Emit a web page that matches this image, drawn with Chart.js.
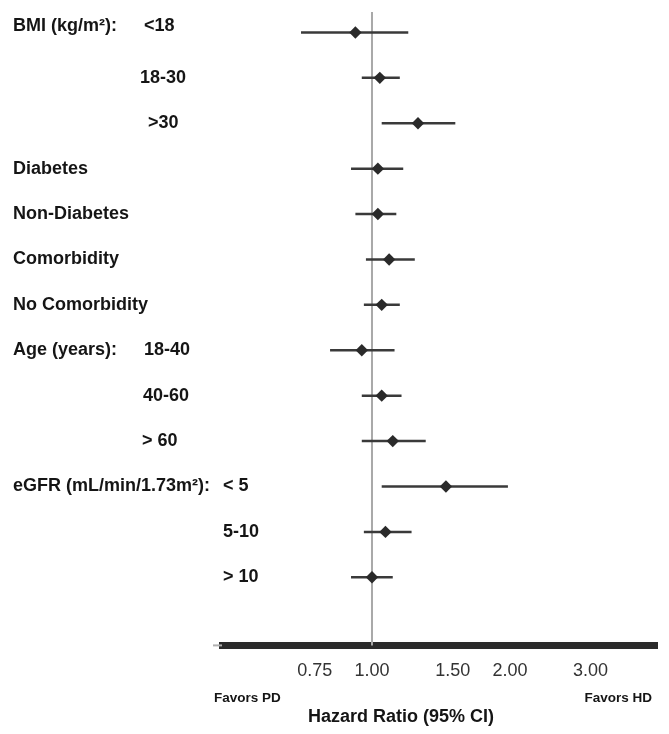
<!DOCTYPE html>
<html><head><meta charset="utf-8">
<script src="https://cdn.jsdelivr.net/npm/chart.js@4/dist/chart.umd.min.js"></script>
<style>html,body{margin:0;padding:0;background:#fff;} #wrap{width:669px;height:734px;position:relative;}</style>
</head><body><div id="wrap"><canvas id="c" width="669" height="734"></canvas></div>
<script>
const groupLabels = ['BMI (kg/m²):', '', '', 'Diabetes', 'Non-Diabetes', 'Comorbidity', 'No Comorbidity', 'Age (years):', '', '', 'eGFR (mL/min/1.73m²):', '', ''];
const subLabels = ['<18', '18-30', '>30', '', '', '', '', '18-40', '40-60', '> 60', '< 5', '5-10', '> 10'];
const hazardRatio = [0.92, 1.04, 1.26, 1.03, 1.03, 1.09, 1.05, 0.95, 1.05, 1.11, 1.45, 1.07, 1.00];
const ciLower = [0.70, 0.95, 1.05, 0.90, 0.92, 0.97, 0.96, 0.81, 0.95, 0.95, 1.05, 0.96, 0.90];
const ciUpper = [1.20, 1.15, 1.52, 1.17, 1.13, 1.24, 1.15, 1.12, 1.16, 1.31, 1.98, 1.22, 1.11];
const tickValues = [0.75, 1.00, 1.50, 2.00, 3.00];
const axisTitle = 'Hazard Ratio (95% CI)';
const leftNote = 'Favors PD';
const rightNote = 'Favors HD';

const FONT = "'Liberation Sans', Arial, Helvetica, sans-serif";

const datasets = [{
  label: 'HR',
  data: hazardRatio.map((v, i) => ({x: v, y: i + 1})),
  pointStyle: 'rectRot',
  pointRadius: 6.2,
  backgroundColor: '#2a2a2a',
  borderColor: '#2a2a2a',
  borderWidth: 0,
  showLine: false
}];
ciLower.forEach((lo, i) => {
  datasets.push({
    label: 'CI' + i,
    data: [{x: lo, y: i + 1}, {x: ciUpper[i], y: i + 1}],
    showLine: true,
    borderColor: '#3a3a3a',
    borderWidth: 2.5,
    pointRadius: 0
  });
});

const forestPlugin = {
  id: 'forest',
  beforeDatasetsDraw(chart, args, opts) {
    const {ctx, chartArea, scales: {x}} = chart;
    const px = x.getPixelForValue(1);
    ctx.save();
    ctx.strokeStyle = '#a9a9a9';
    ctx.lineWidth = 2;
    ctx.beginPath();
    ctx.moveTo(px, chartArea.top);
    ctx.lineTo(px, chartArea.bottom);
    ctx.stroke();
    ctx.strokeStyle = '#b0b0b0';
    ctx.beginPath();
    ctx.moveTo(chartArea.left - 9, chartArea.bottom);
    ctx.lineTo(chartArea.left, chartArea.bottom);
    ctx.stroke();
    ctx.restore();
  },
  afterDraw(chart, args, opts) {
    const {ctx, chartArea, scales: {y}} = chart;
    ctx.save();
    ctx.fillStyle = '#151515';
    ctx.textBaseline = 'middle';
    ctx.textAlign = 'left';
    ctx.font = 'bold 18px ' + FONT;
    for (let i = 0; i < groupLabels.length; i++) {
      const py = y.getPixelForValue(i + 1) + (opts.rowShift[i] || 0);
      if (groupLabels[i]) ctx.fillText(groupLabels[i], opts.groupX, py);
      if (subLabels[i]) ctx.fillText(subLabels[i], opts.subX[i], py);
    }
    ctx.font = 'bold 13.5px ' + FONT;
    ctx.fillText(leftNote, chartArea.left - 8, opts.noteY);
    ctx.textAlign = 'right';
    ctx.fillText(rightNote, chartArea.right - 5, opts.noteY);
    ctx.textAlign = 'center';
    ctx.font = 'bold 18px ' + FONT;
    ctx.fillText(axisTitle, opts.titleX, opts.titleY);
    ctx.restore();
  }
};

new Chart(document.getElementById('c'), {
  type: 'scatter',
  data: {datasets},
  plugins: [forestPlugin],
  options: {
    responsive: false,
    animation: false,
    layout: {padding: {left: 222, right: 12, top: 12, bottom: 37}},
    plugins: {
      legend: {display: false},
      tooltip: {enabled: false},
      forest: {
        groupX: 13,
        subX: [144, 140, 148, 0, 0, 0, 0, 144, 143, 142, 223, 223, 223],
        rowShift: {0: -6},
        noteY: 698,
        titleX: 401,
        titleY: 717
      }
    },
    scales: {
      x: {
        type: 'logarithmic',
        min: 0.4706,
        max: 4.188,
        afterBuildTicks: (scale) => { scale.ticks = tickValues.map(v => ({value: v})); },
        ticks: {
          autoSkip: false,
          maxRotation: 0,
          padding: 15,
          color: '#333',
          font: {family: FONT, size: 18},
          callback: (v) => Number(v).toFixed(2)
        },
        grid: {display: false, drawTicks: false},
        border: {display: true, color: '#2b2b2b', width: 7}
      },
      y: {
        type: 'linear',
        display: false,
        reverse: true,
        min: 0.55,
        max: 14.5
      }
    }
  }
});
</script>
</body></html>
